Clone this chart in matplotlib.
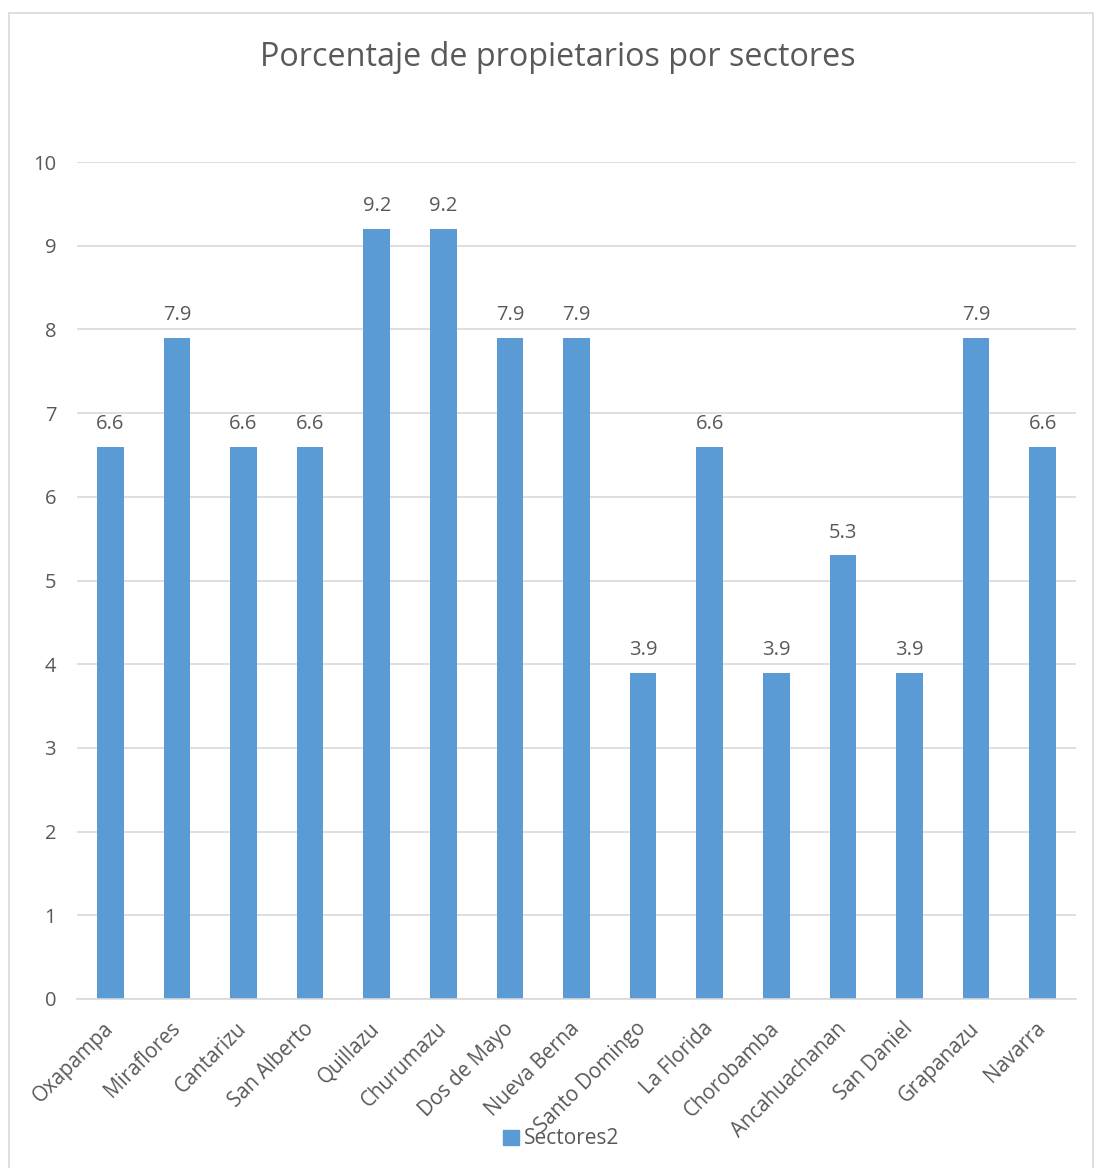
import matplotlib
matplotlib.use("Agg")
import matplotlib.pyplot as plt
from matplotlib.patches import Rectangle, Patch

categories = ["Oxapampa", "Miraflores", "Cantarizu", "San Alberto", "Quillazu",
              "Churumazu", "Dos de Mayo", "Nueva Berna", "Santo Domingo", "La Florida",
              "Chorobamba", "Ancahuachanan", "San Daniel", "Grapanazu", "Navarra"]
values = [6.6, 7.9, 6.6, 6.6, 9.2, 9.2, 7.9, 7.9, 3.9, 6.6, 3.9, 5.3, 3.9, 7.9, 6.6]
yticks = list(range(0, 11))
series_name = "Sectores2"
title = "Porcentaje de propietarios por sectores"

W, H = 1094, 1168
plt.rcParams['font.family'] = ['Open Sans', 'DejaVu Sans']
txt = '#595959'
grid = '#D9D9D9'
bar_c = '#5B9BD5'

fig = plt.figure(figsize=(W / 100, H / 100), dpi=100)
fig.patch.set_facecolor('white')

# chart border
fig.add_artist(Rectangle((9 / W, -0.1), (1093 - 9) / W, (H - 13) / H + 0.1,
                         transform=fig.transFigure, fill=False, edgecolor=grid, lw=1.2))

ax = fig.add_axes([77 / W, (H - 999) / H, (1076 - 77) / W, (999 - 162) / H])
x = list(range(len(categories)))
ax.bar(x, values, width=0.4, color=bar_c, zorder=3)
ax.set_xlim(-0.5, len(categories) - 0.5)
ax.set_ylim(0, 10)
ax.set_yticks(yticks)
ax.set_yticklabels([str(t) for t in yticks], color=txt, fontsize=14.5)
ax.yaxis.grid(True, color=grid, lw=1.2, zorder=0)
ax.tick_params(axis='y', length=0, pad=15)
ax.tick_params(axis='x', length=0)
for s in ['top', 'right', 'left']:
    ax.spines[s].set_visible(False)
ax.spines['bottom'].set_color(grid)
ax.spines['bottom'].set_linewidth(1.2)
ax.spines['bottom'].set_zorder(4)

ax.set_xticks(x)
ax.set_xticklabels(categories, rotation=45, ha='right', va='center',
                   rotation_mode='anchor', color=txt, fontsize=14.8)
ax.tick_params(axis='x', pad=19)

for xi, v in zip(x, values):
    ax.annotate(f"{v}", (xi, v), xytext=(0, 9), textcoords='offset points',
                ha='center', va='bottom', color=txt, fontsize=14.5)

fig.text((260 + 855) / 2 / W, 1 - 58 / H, title, ha='center', va='center',
         color=txt, fontsize=23.3)

fig.legend(handles=[Patch(color=bar_c, label=series_name)], loc='center',
           bbox_to_anchor=(561 / W, 1 - 1139 / H), frameon=False, fontsize=15,
           labelcolor=txt, handlelength=0.75, handleheight=0.75, handletextpad=0.25)

fig.savefig('out.png', dpi=100, facecolor='white')
